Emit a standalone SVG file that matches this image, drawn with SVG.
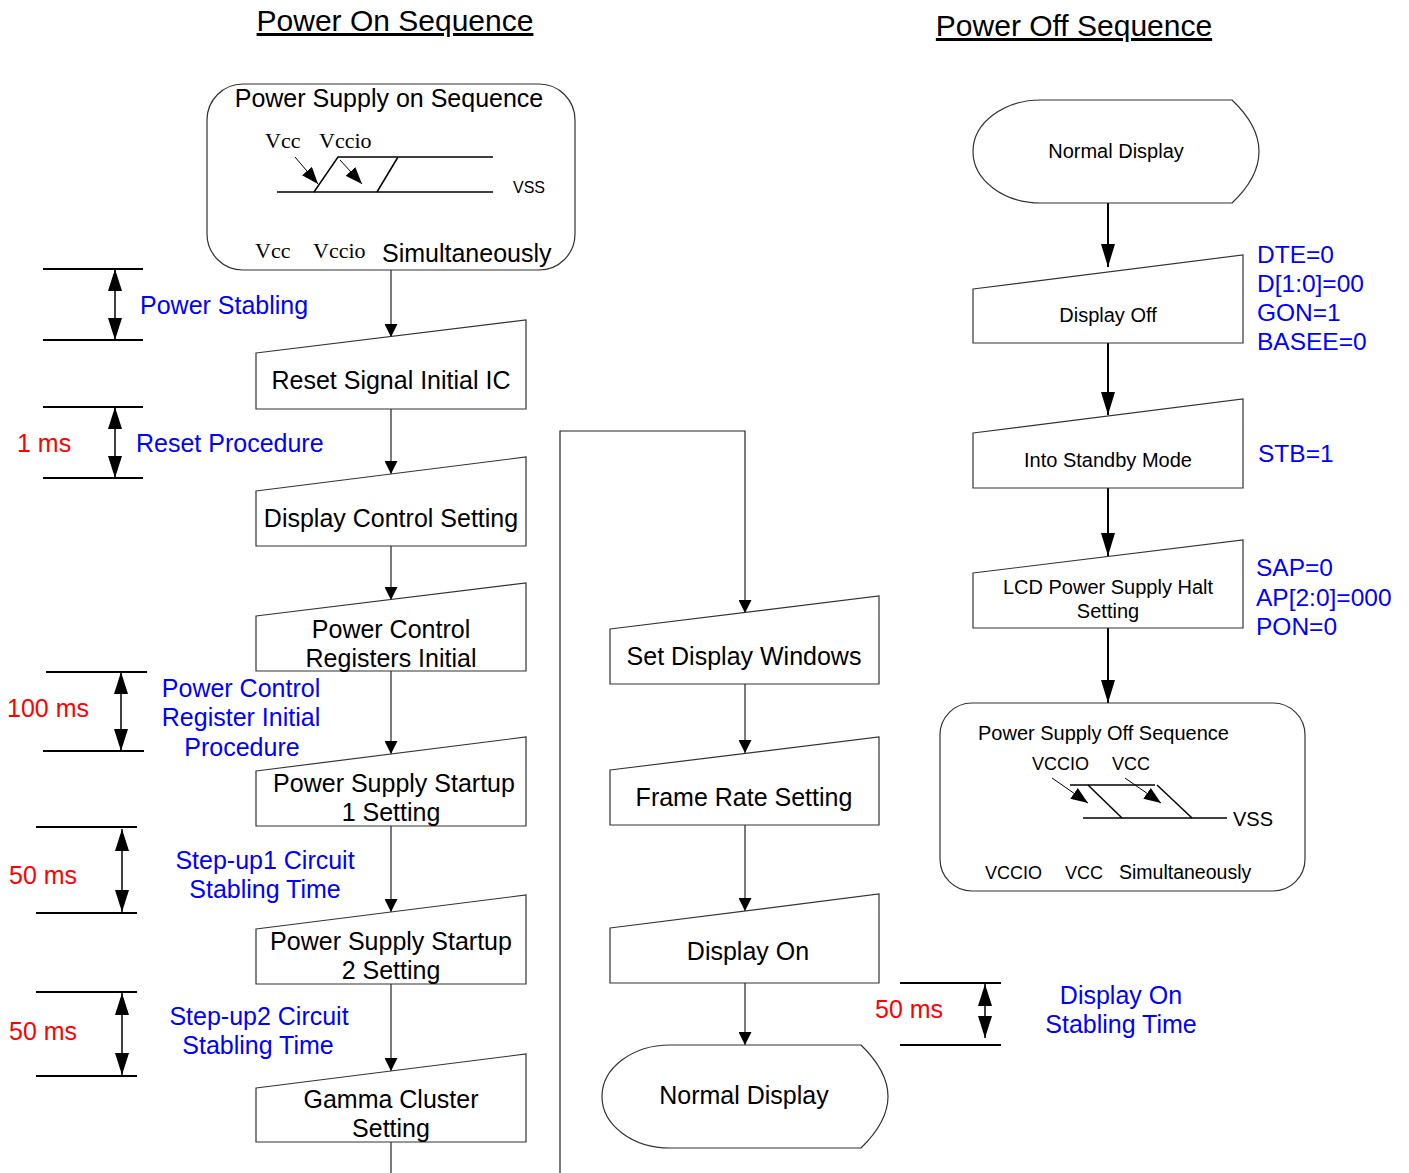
<svg xmlns="http://www.w3.org/2000/svg" width="1409" height="1173" viewBox="0 0 1409 1173">
<style>
text{font-family:"Liberation Sans",Arial,sans-serif;fill:#000}
.t{font-size:25px;text-anchor:middle}
.r{font-size:20px;text-anchor:middle}
.serif{font-family:"Liberation Serif","Times New Roman",serif;font-size:22px}
.blue{fill:#0000ff;font-size:24.5px}
.bc{fill:#0000ff;font-size:25px;text-anchor:middle}
.red{fill:#ff0000;font-size:25px}
.title{font-size:30px;text-anchor:middle;text-decoration:underline}
.box{fill:#fff;stroke:#333;stroke-width:1.2}
.c1{fill:none;stroke:#222;stroke-width:1.2}
.c2{fill:none;stroke:#000;stroke-width:2}
.dl{stroke:#000;stroke-width:2}
.dv{stroke:#000;stroke-width:1.5}
.in{stroke:#000;stroke-width:1.5;fill:none}
.thin{stroke:#000;stroke-width:1;fill:none}
</style>
<defs>
<marker id="aS" viewBox="0 0 13 13" refX="13" refY="6.5" markerWidth="13" markerHeight="13" markerUnits="userSpaceOnUse" orient="auto"><path d="M0,0 L13,6.5 L0,13 z" fill="#000"/></marker>
<marker id="aL" viewBox="0 0 23 14" refX="23" refY="7" markerWidth="23" markerHeight="14" markerUnits="userSpaceOnUse" orient="auto"><path d="M0,0 L23,7 L0,14 z" fill="#000"/></marker>
<marker id="aD" viewBox="0 0 22 14" refX="22" refY="7" markerWidth="22" markerHeight="14" markerUnits="userSpaceOnUse" orient="auto-start-reverse"><path d="M0,0 L22,7 L0,14 z" fill="#000"/></marker>
<marker id="aI" viewBox="0 0 17 13" refX="17" refY="6.5" markerWidth="17" markerHeight="13" markerUnits="userSpaceOnUse" orient="auto"><path d="M0,0 L17,6.5 L0,13 z" fill="#000"/></marker>
</defs>

<text class="title" x="395" y="31">Power On Sequence</text>
<text class="title" x="1074" y="36">Power Off Sequence</text>

<g id="connectors">
<line class="c1" x1="391" y1="270" x2="391" y2="337" marker-end="url(#aS)"/>
<line class="c1" x1="391" y1="409" x2="391" y2="474" marker-end="url(#aS)"/>
<line class="c1" x1="391" y1="546" x2="391" y2="600" marker-end="url(#aS)"/>
<line class="c1" x1="391" y1="671" x2="391" y2="754" marker-end="url(#aS)"/>
<line class="c1" x1="391" y1="826" x2="391" y2="912" marker-end="url(#aS)"/>
<line class="c1" x1="391" y1="984" x2="391" y2="1071" marker-end="url(#aS)"/>
<line class="c1" x1="391" y1="1142" x2="391" y2="1173"/>
<polyline class="c1" points="560,1173 560,431 745,431 745,613" marker-end="url(#aS)"/>
<line class="c1" x1="745" y1="684" x2="745" y2="753" marker-end="url(#aS)"/>
<line class="c1" x1="745" y1="825" x2="745" y2="911" marker-end="url(#aS)"/>
<line class="c1" x1="745" y1="983" x2="745" y2="1045" marker-end="url(#aS)"/>
<line class="c2" x1="1108" y1="203" x2="1108" y2="267" marker-end="url(#aL)"/>
<line class="c2" x1="1108" y1="343" x2="1108" y2="415" marker-end="url(#aL)"/>
<line class="c2" x1="1108" y1="488" x2="1108" y2="556" marker-end="url(#aL)"/>
<line class="c2" x1="1108" y1="628" x2="1108" y2="703" marker-end="url(#aL)"/>
</g>

<g id="power-supply-on">
<rect class="box" x="207" y="84" width="368" height="186" rx="36" ry="36"/>
<text class="t" x="389" y="107">Power Supply on Sequence</text>
<text class="serif" x="265" y="148">Vcc</text>
<text class="serif" x="319" y="148">Vccio</text>
<polyline class="in" points="277,192 314,192 338,157 493,157"/>
<line class="in" x1="314" y1="192" x2="493" y2="192"/>
<line class="in" x1="377" y1="192" x2="398" y2="157"/>
<line class="thin" x1="295" y1="157" x2="318" y2="184" marker-end="url(#aI)"/>
<line class="thin" x1="340" y1="160" x2="362" y2="184" marker-end="url(#aI)"/>
<text x="513" y="193" style="font-size:16px">VSS</text>
<text class="serif" x="255" y="258">Vcc</text>
<text class="serif" x="313" y="258">Vccio</text>
<text x="382" y="262" style="font-size:25px">Simultaneously</text>
</g>

<g id="reset-signal"><polygon class="box" points="256,353 526,320 526,409 256,409"/><text class="t" x="391" y="389">Reset Signal Initial IC</text></g>
<g id="display-control"><polygon class="box" points="256,491 526,457 526,546 256,546"/><text class="t" x="391" y="527">Display Control Setting</text></g>
<g id="power-control"><polygon class="box" points="256,616 526,583 526,671 256,671"/><text class="t" x="391" y="638">Power Control</text><text class="t" x="391" y="667">Registers Initial</text></g>
<g id="ps-startup1"><polygon class="box" points="256,771 526,737 526,826 256,826"/><text class="t" x="394" y="792">Power Supply Startup</text><text class="t" x="391" y="821">1 Setting</text></g>
<g id="ps-startup2"><polygon class="box" points="256,929 526,895 526,984 256,984"/><text class="t" x="391" y="950">Power Supply Startup</text><text class="t" x="391" y="979">2 Setting</text></g>
<g id="gamma"><polygon class="box" points="256,1088 526,1054 526,1142 256,1142"/><text class="t" x="391" y="1108">Gamma Cluster</text><text class="t" x="391" y="1137">Setting</text></g>

<g id="set-display-windows"><polygon class="box" points="610,629 879,596 879,684 610,684"/><text class="t" x="744" y="665">Set Display Windows</text></g>
<g id="frame-rate"><polygon class="box" points="610,770 879,737 879,825 610,825"/><text class="t" x="744" y="806">Frame Rate Setting</text></g>
<g id="display-on"><polygon class="box" points="610,928 879,894 879,983 610,983"/><text class="t" x="748" y="960">Display On</text></g>
<g id="normal-display-on"><path class="box" d="M670,1045 L861,1045 C897,1080 897,1113 861,1148 L670,1148 A68,51.5 0 0 1 670,1045 z"/><text class="t" x="744" y="1104">Normal Display</text></g>

<g id="normal-display-off"><path class="box" d="M1041,100 L1232,100 C1268,134 1268,169 1232,203 L1041,203 A68,51.5 0 0 1 1041,100 z"/><text class="r" x="1116" y="158">Normal Display</text></g>
<g id="display-off"><polygon class="box" points="973,289 1243,255 1243,343 973,343"/><text class="r" x="1108" y="322">Display Off</text></g>
<g id="standby"><polygon class="box" points="973,433 1243,399 1243,488 973,488"/><text class="r" x="1108" y="467">Into Standby Mode</text></g>
<g id="lcd-halt"><polygon class="box" points="973,573 1243,540 1243,628 973,628"/><text class="r" x="1108" y="594">LCD Power Supply Halt</text><text class="r" x="1108" y="618">Setting</text></g>

<g id="power-supply-off">
<rect class="box" x="940" y="703" width="365" height="188" rx="32" ry="32"/>
<text x="978" y="740" style="font-size:20px">Power Supply Off Sequence</text>
<text x="1032" y="770" style="font-size:18px">VCCIO</text>
<text x="1112" y="770" style="font-size:18px">VCC</text>
<line class="in" x1="1070" y1="785" x2="1155" y2="785"/>
<line class="in" x1="1083" y1="818" x2="1227" y2="818"/>
<line class="in" x1="1088" y1="785" x2="1122" y2="818"/>
<line class="in" x1="1157" y1="785" x2="1192" y2="818"/>
<line class="thin" x1="1052" y1="778" x2="1088" y2="803" marker-end="url(#aI)"/>
<line class="thin" x1="1125" y1="778" x2="1161" y2="803" marker-end="url(#aI)"/>
<text x="1233" y="826" style="font-size:20px">VSS</text>
<text x="985" y="879" style="font-size:18px">VCCIO</text>
<text x="1065" y="879" style="font-size:18px">VCC</text>
<text x="1119" y="879" style="font-size:19.5px">Simultaneously</text>
</g>

<g id="off-params">
<text class="blue" x="1257" y="263">DTE=0</text>
<text class="blue" x="1257" y="292">D[1:0]=00</text>
<text class="blue" x="1257" y="321">GON=1</text>
<text class="blue" x="1257" y="350">BASEE=0</text>
<text class="blue" x="1258" y="462">STB=1</text>
<text class="blue" x="1256" y="576">SAP=0</text>
<text class="blue" x="1256" y="606">AP[2:0]=000</text>
<text class="blue" x="1256" y="635">PON=0</text>
</g>

<g id="timing">
<line class="dl" x1="43" y1="269" x2="143" y2="269"/><line class="dl" x1="43" y1="340" x2="143" y2="340"/>
<line class="dv" x1="115" y1="269" x2="115" y2="340" marker-start="url(#aD)" marker-end="url(#aD)"/>
<text class="blue" x="140" y="314" style="font-size:25px">Power Stabling</text>

<line class="dl" x1="43" y1="407" x2="143" y2="407"/><line class="dl" x1="43" y1="478" x2="143" y2="478"/>
<line class="dv" x1="115" y1="407" x2="115" y2="478" marker-start="url(#aD)" marker-end="url(#aD)"/>
<text class="red" x="17" y="452">1 ms</text>
<text class="blue" x="136" y="452" style="font-size:25px">Reset Procedure</text>

<line class="dl" x1="46" y1="672" x2="147" y2="672"/><line class="dl" x1="43" y1="751" x2="144" y2="751"/>
<line class="dv" x1="121" y1="672" x2="121" y2="751" marker-start="url(#aD)" marker-end="url(#aD)"/>
<text class="red" x="7" y="717">100 ms</text>
<text class="bc" x="241" y="697">Power Control</text>
<text class="bc" x="241" y="726">Register Initial</text>
<text class="bc" x="242" y="756">Procedure</text>

<line class="dl" x1="36" y1="827" x2="137" y2="827"/><line class="dl" x1="36" y1="913" x2="137" y2="913"/>
<line class="dv" x1="122" y1="829" x2="122" y2="912" marker-start="url(#aD)" marker-end="url(#aD)"/>
<text class="red" x="9" y="884">50 ms</text>
<text class="bc" x="265" y="869">Step-up1 Circuit</text>
<text class="bc" x="265" y="898">Stabling Time</text>

<line class="dl" x1="36" y1="992" x2="137" y2="992"/><line class="dl" x1="36" y1="1076" x2="137" y2="1076"/>
<line class="dv" x1="122" y1="993" x2="122" y2="1075" marker-start="url(#aD)" marker-end="url(#aD)"/>
<text class="red" x="9" y="1040">50 ms</text>
<text class="bc" x="259" y="1025">Step-up2 Circuit</text>
<text class="bc" x="258" y="1054">Stabling Time</text>

<line class="dl" x1="900" y1="983" x2="1001" y2="983"/><line class="dl" x1="900" y1="1045" x2="1001" y2="1045"/>
<line class="dv" x1="985" y1="984" x2="985" y2="1038" marker-start="url(#aD)" marker-end="url(#aD)"/>
<text class="red" x="875" y="1018">50 ms</text>
<text class="bc" x="1121" y="1004">Display On</text>
<text class="bc" x="1121" y="1033">Stabling Time</text>
</g>
</svg>
